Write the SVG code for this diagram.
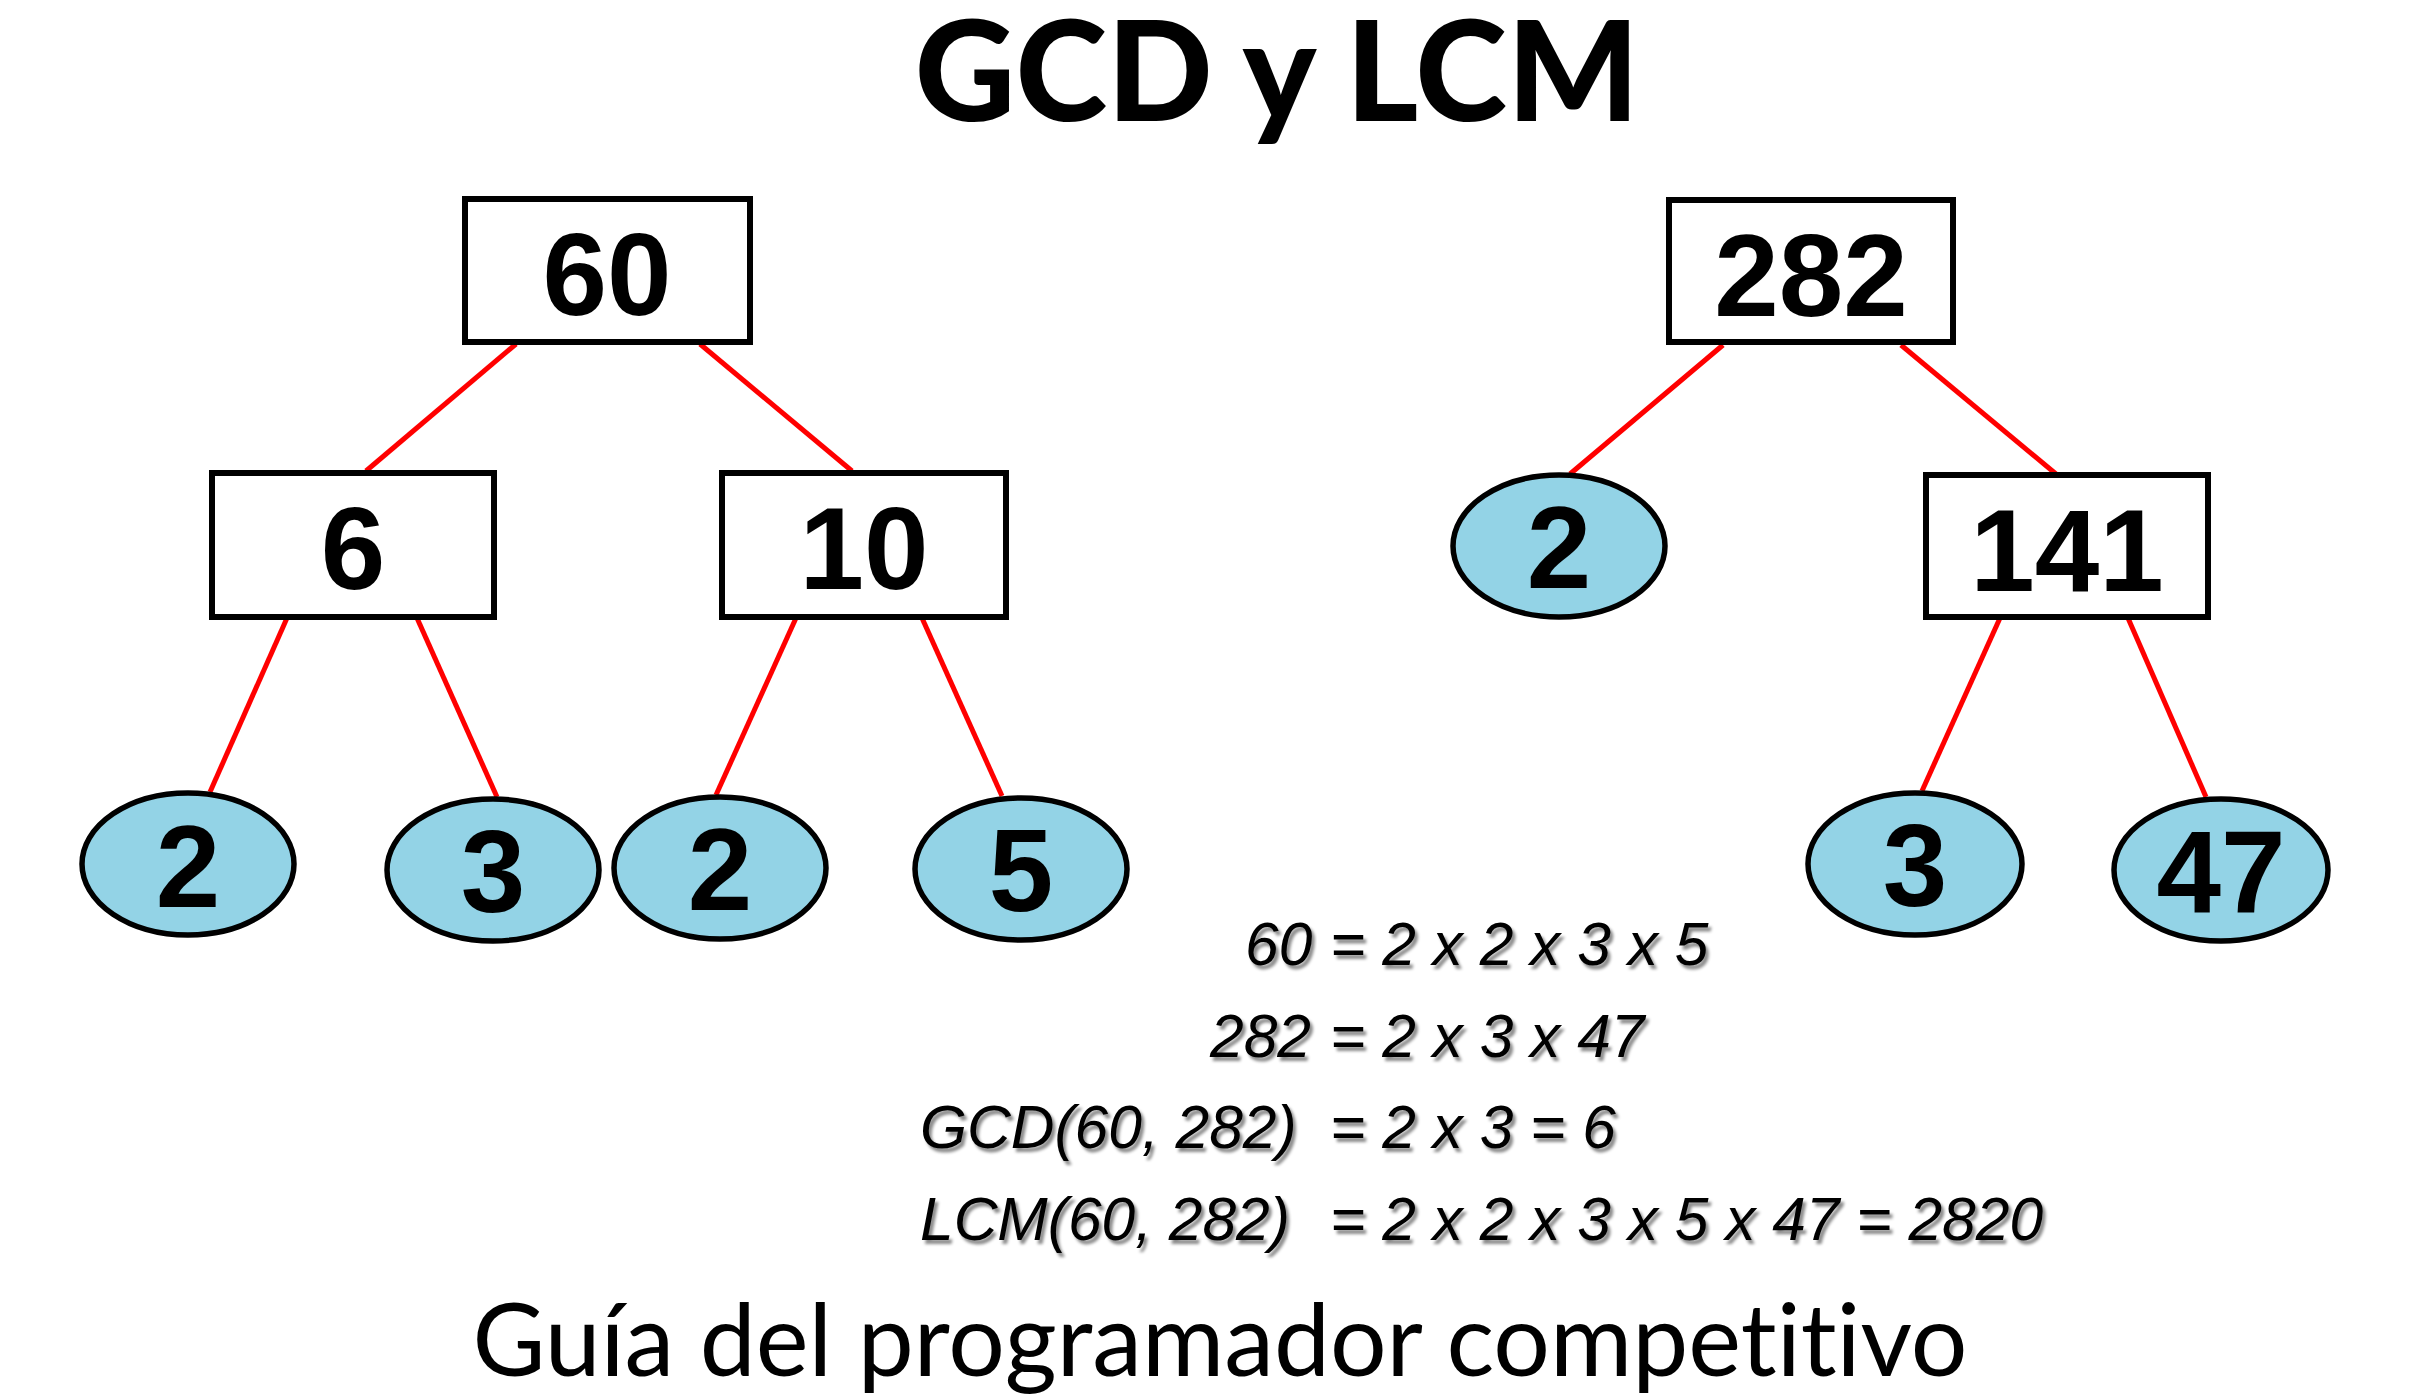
<svg xmlns="http://www.w3.org/2000/svg" width="2430" height="1397" viewBox="0 0 2430 1397">
<style>
.box{fill:#fff;stroke:#000;stroke-width:6}
.leaf{fill:#93D3E6;stroke:#000;stroke-width:5.5}
.num{font-family:"Liberation Sans",Arial,sans-serif;font-weight:bold;font-size:116px;text-anchor:middle;fill:#000}
.edge{stroke:#F00;stroke-width:5;fill:none}
.eq{font-family:"Liberation Sans",Arial,sans-serif;font-style:italic;font-size:60.5px;fill:#000;filter:url(#sh)}
.title{font-family:Lato,"Liberation Sans",sans-serif;font-weight:900;font-size:139px;text-anchor:middle}
.foot{font-family:Lato,"Liberation Sans",sans-serif;font-size:100px;text-anchor:middle;font-variant-ligatures:none}
</style>
<defs>
<filter id="sh" x="-5%" y="-20%" width="110%" height="150%">
<feDropShadow dx="3" dy="4" stdDeviation="1.5" flood-color="#000" flood-opacity="0.45"/>
</filter>
</defs>
<rect width="2430" height="1397" fill="#fff"/>
<text class="title" x="1277" y="121">GCD y LCM</text>
<g id="connectors">
<line class="edge" x1="516" y1="344" x2="366" y2="471"/>
<line class="edge" x1="700" y1="344" x2="852" y2="471"/>
<line class="edge" x1="1723" y1="345" x2="1570" y2="474"/>
<line class="edge" x1="1901" y1="345" x2="2056" y2="474"/>
<line class="edge" x1="287" y1="618" x2="210" y2="792"/>
<line class="edge" x1="417" y1="618" x2="497" y2="797"/>
<line class="edge" x1="796" y1="618" x2="716" y2="795"/>
<line class="edge" x1="922" y1="618" x2="1002" y2="796"/>
<line class="edge" x1="2000" y1="618" x2="1922" y2="791"/>
<line class="edge" x1="2128" y1="618" x2="2206" y2="797"/>
</g>
<g id="n60"><rect class="box" x="465" y="199" width="285" height="143"/><text class="num" x="607" y="315">60</text></g>
<g id="n282"><rect class="box" x="1669" y="200" width="284" height="142"/><text class="num" x="1811" y="316">282</text></g>
<g id="n6"><rect class="box" x="212" y="473" width="282" height="144"/><text class="num" x="353" y="589">6</text></g>
<g id="n10"><rect class="box" x="722" y="473" width="284" height="144"/><text class="num" x="864" y="589">10</text></g>
<g id="n141"><rect class="box" x="1926" y="475" width="282" height="142"/><text class="num" x="2067" y="591">141</text></g>
<g id="n2r"><ellipse class="leaf" cx="1559" cy="546" rx="106" ry="71"/><text class="num" x="1559" y="588">2</text></g>
<g id="l2a"><ellipse class="leaf" cx="188" cy="864" rx="106" ry="71"/><text class="num" x="188" y="907">2</text></g>
<g id="l3a"><ellipse class="leaf" cx="493" cy="870" rx="106" ry="71"/><text class="num" x="493" y="912">3</text></g>
<g id="l2b"><ellipse class="leaf" cx="720" cy="868" rx="106" ry="71"/><text class="num" x="720" y="910">2</text></g>
<g id="l5"><ellipse class="leaf" cx="1021" cy="869" rx="106" ry="71"/><text class="num" x="1021" y="911">5</text></g>
<g id="l3b"><ellipse class="leaf" cx="1915" cy="864" rx="107" ry="71"/><text class="num" x="1915" y="906">3</text></g>
<g id="l47"><ellipse class="leaf" cx="2221" cy="870" rx="107" ry="71"/><text class="num" x="2221" y="912">47</text></g>
<g id="equations">
<text class="eq" x="1245" y="965">60</text><text class="eq" x="1330" y="965">= 2 x 2 x 3 x 5</text>
<text class="eq" x="1210" y="1057">282</text><text class="eq" x="1330" y="1057">= 2 x 3 x 47</text>
<text class="eq" x="920" y="1148">GCD(60, 282)</text><text class="eq" x="1330" y="1148">= 2 x 3 = 6</text>
<text class="eq" x="920" y="1240">LCM(60, 282)</text><text class="eq" x="1330" y="1240">= 2 x 2 x 3 x 5 x 47 = 2820</text>
</g>
<text class="foot" x="1220" y="1376">Guía del programador competitivo</text>
</svg>
